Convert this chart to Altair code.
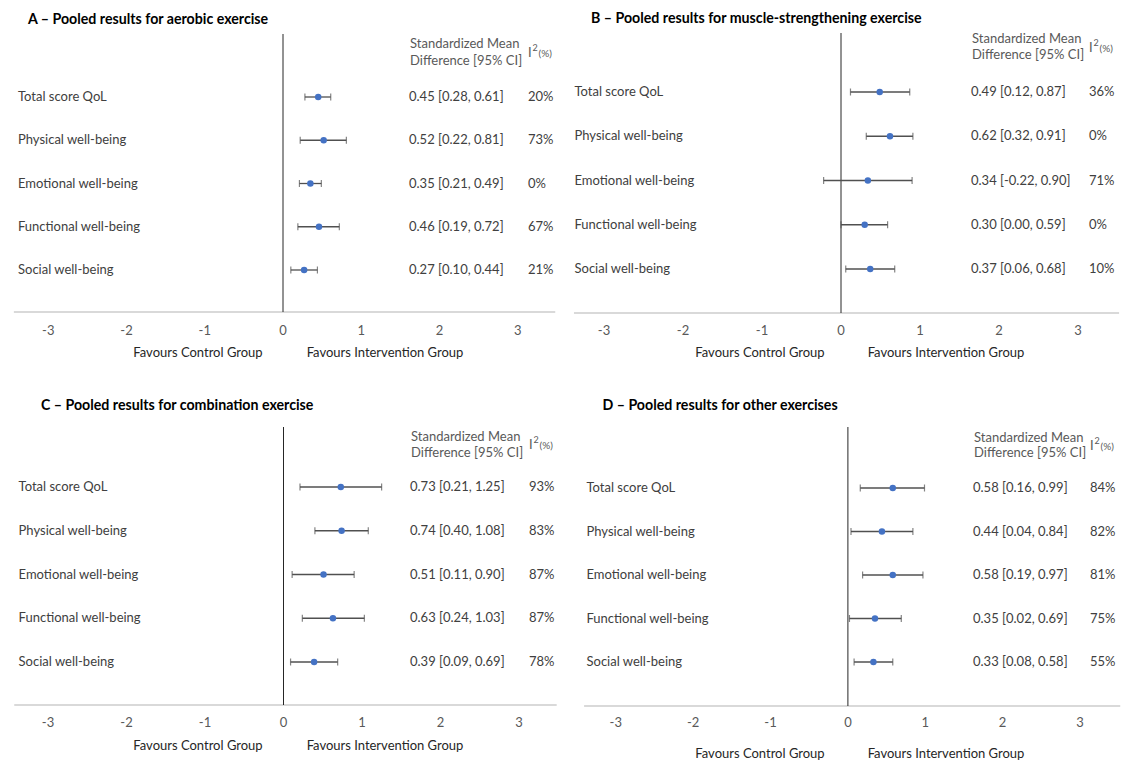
import altair as alt
import pandas as pd

# ---------------- data ----------------
outcomes = ["Total score QoL", "Physical well-being", "Emotional well-being",
            "Functional well-being", "Social well-being"]
ticks = [-3, -2, -1, 0, 1, 2, 3]

titles = {
    "A": "A \u2013 Pooled results for aerobic exercise",
    "B": "B \u2013 Pooled results for muscle-strengthening exercise",
    "C": "C \u2013 Pooled results for combination exercise",
    "D": "D \u2013 Pooled results for other exercises",
}

a_smd = [0.45, 0.52, 0.35, 0.46, 0.27]
a_lo = [0.28, 0.22, 0.21, 0.19, 0.10]
a_hi = [0.61, 0.81, 0.49, 0.72, 0.44]
a_i2 = [20, 73, 0, 67, 21]

b_smd = [0.49, 0.62, 0.34, 0.30, 0.37]
b_lo = [0.12, 0.32, -0.22, 0.00, 0.06]
b_hi = [0.87, 0.91, 0.90, 0.59, 0.68]
b_i2 = [36, 0, 71, 0, 10]

c_smd = [0.73, 0.74, 0.51, 0.63, 0.39]
c_lo = [0.21, 0.40, 0.11, 0.24, 0.09]
c_hi = [1.25, 1.08, 0.90, 1.03, 0.69]
c_i2 = [93, 83, 87, 87, 78]

d_smd = [0.58, 0.44, 0.58, 0.35, 0.33]
d_lo = [0.16, 0.04, 0.19, 0.02, 0.08]
d_hi = [0.99, 0.84, 0.97, 0.69, 0.58]
d_i2 = [84, 82, 81, 75, 55]

FONT = "Lato"
FS = 13
TFS = 14.2

# ---------------- layout (panel-local pixels) ----------------
geo = {
    "A": dict(w=560, h=385, x3=(48.3, 517.7), line=(-3.44, 3.48), rows=(97, 270),
              ztop=34, axy=312, ticky=331, favy=353, fav=(198, 385),
              tx=28, ty=20, lx=18, vx=409, ix=528, hy=(44, 61), iy=53),
    "B": dict(w=569, h=385, x3=(44, 518), line=(-3.38, 3.52), rows=(92, 269),
              ztop=33, axy=313, ticky=331, favy=353, fav=(200, 386),
              tx=31, ty=19, lx=14.5, vx=411, ix=529, hy=(39, 55), iy=48),
    "C": dict(w=560, h=380, x3=(48, 519), line=(-3.43, 3.48), rows=(102, 277),
              ztop=42, axy=320, ticky=338, favy=361, fav=(198, 385),
              tx=41, ty=21, lx=18.6, vx=410, ix=529, hy=(52, 68), iy=60),
    "D": dict(w=569, h=380, x3=(55.8, 520), line=(-3.41, 3.52), rows=(103, 277),
              ztop=42, axy=321, ticky=338, favy=369, fav=(200, 386),
              tx=42.5, ty=21, lx=26.5, vx=413, ix=530, hy=(53, 68), iy=61),
}


def panel(key, smd, lo, hi, i2):
    g = geo[key]
    xs = alt.Scale(domain=[-3, 3], range=list(g["x3"]), nice=False, zero=False)
    ys = alt.Scale(domain=[0, 4], range=list(g["rows"]), nice=False, zero=False)

    df = pd.DataFrame({
        "row": list(range(len(outcomes))),
        "outcome": outcomes,
        "smd": smd, "lo": lo, "hi": hi,
        "val": [f"{m:.2f} [{l:.2f}, {h:.2f}]" for m, l, h in zip(smd, lo, hi)],
        "i2": [f"{v}%" for v in i2],
    })
    tdf = pd.DataFrame({"t": ticks, "lab": [str(t) for t in ticks]})
    ldf = pd.DataFrame({"x0": [g["line"][0]], "x1": [g["line"][1]], "z": [0]})

    base = alt.Chart(df)
    X = lambda f: alt.X(f, type="quantitative", scale=xs, axis=None)
    Y = alt.Y("row:Q", scale=ys, axis=None)

    axis_line = alt.Chart(ldf).mark_rule(color="#d9d9d9", strokeWidth=2).encode(
        x=alt.X("x0:Q", scale=xs, axis=None), x2="x1:Q", y=alt.value(g["axy"]))
    zero_line = alt.Chart(ldf).mark_rule(color="#262626", strokeWidth=1).encode(
        x=alt.X("z:Q", scale=xs, axis=None), y=alt.value(g["ztop"]), y2=alt.value(g["axy"]))
    tick_lab = alt.Chart(tdf).mark_text(font=FONT, fontSize=FS, color="#595959",
                                        baseline="middle").encode(
        x=alt.X("t:Q", scale=xs, axis=None), y=alt.value(g["ticky"]), text="lab:N")

    err = base.mark_rule(color="#505050", strokeWidth=1.3).encode(x=X("lo"), x2="hi:Q", y=Y)
    cap_lo = base.mark_tick(orient="vertical", color="#505050", size=7, thickness=1.2).encode(x=X("lo"), y=Y)
    cap_hi = base.mark_tick(orient="vertical", color="#505050", size=7, thickness=1.2).encode(x=X("hi"), y=Y)
    pts = base.mark_circle(color="#4472C4", size=42, opacity=1).encode(x=X("smd"), y=Y)

    lab = base.mark_text(font=FONT, fontSize=FS, color="#404040", align="left",
                         baseline="middle").encode(x=alt.value(g["lx"]), y=Y, text="outcome:N")
    val = base.mark_text(font=FONT, fontSize=FS, color="#404040", align="left",
                         baseline="middle").encode(x=alt.value(g["vx"]), y=Y, text="val:N")
    i2t = base.mark_text(font=FONT, fontSize=FS, color="#404040", align="left",
                         baseline="middle").encode(x=alt.value(g["ix"]), y=Y, text="i2:N")

    def static(txt, x, y, **kw):
        d = pd.DataFrame({"s": [txt]})
        return alt.Chart(d).mark_text(font=FONT, baseline="middle", **kw).encode(
            x=alt.value(x), y=alt.value(y), text="s:N")

    title = static(titles[key], g["tx"], g["ty"], align="left", fontSize=TFS,
                   fontWeight="bold", color="#000000")
    h1 = static("Standardized Mean", g["vx"] + 1, g["hy"][0], align="left", fontSize=FS, color="#595959")
    h2 = static("Difference [95% CI]", g["vx"] + 1, g["hy"][1], align="left", fontSize=FS, color="#595959")
    i2a = static("I", g["ix"], g["iy"], align="left", fontSize=FS, color="#595959")
    i2b = static("2", g["ix"] + 4.5, g["iy"] - 5, align="left", fontSize=9, color="#595959")
    i2c = static("(%)", g["ix"] + 10.5, g["iy"] + 1, align="left", fontSize=10, color="#595959")
    fav1 = static("Favours Control Group", g["fav"][0], g["favy"], align="center", fontSize=FS, color="#262626")
    fav2 = static("Favours Intervention Group", g["fav"][1], g["favy"], align="center", fontSize=FS, color="#262626")

    return alt.layer(axis_line, zero_line, tick_lab, err, cap_lo, cap_hi, pts,
                     lab, val, i2t, title, h1, h2, i2a, i2b, i2c, fav1, fav2).properties(
        width=g["w"], height=g["h"])


pa = panel("A", a_smd, a_lo, a_hi, a_i2)
pb = panel("B", b_smd, b_lo, b_hi, b_i2)
pc = panel("C", c_smd, c_lo, c_hi, c_i2)
pd_ = panel("D", d_smd, d_lo, d_hi, d_i2)

chart = alt.concat(pa, pb, pc, pd_, columns=2, spacing=0).properties(
    padding=0, background="white"
).configure_view(stroke=None)

chart.save("out.html", embed_options={"renderer": "svg", "actions": False})
